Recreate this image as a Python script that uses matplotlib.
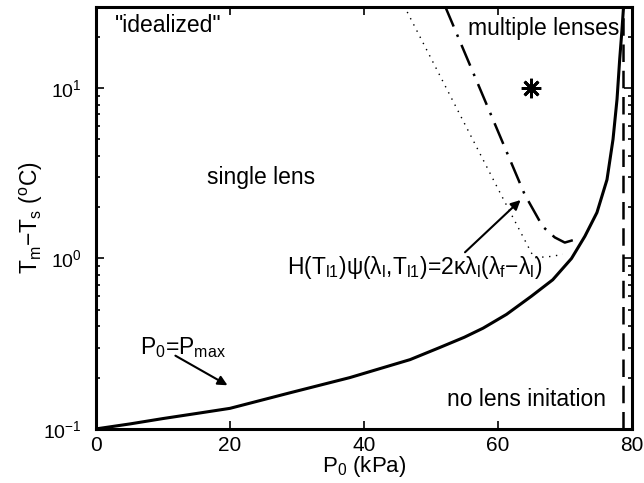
import numpy as np
import matplotlib
matplotlib.use('Agg')
import matplotlib.pyplot as plt

plt.rcParams['font.family'] = ['Liberation Sans', 'DejaVu Sans']
plt.rcParams['mathtext.fontset'] = 'custom'
plt.rcParams['mathtext.rm'] = 'Liberation Sans'
plt.rcParams['mathtext.it'] = 'Liberation Sans'
plt.rcParams['mathtext.default'] = 'regular'
plt.rcParams['axes.unicode_minus'] = False

# P0 = Pmax curve (solid)
p_max = [0, 5.1, 10, 15.5, 20, 29, 37.9, 46.9, 51.3, 55, 57.8, 61.3, 65, 68.2, 71,
         73, 74.8, 76.3, 77.2, 77.8, 78.2, 78.5, 78.8]
t_max = [0.1, 0.107, 0.115, 0.124, 0.132, 0.163, 0.2, 0.255, 0.3, 0.345, 0.39, 0.47, 0.6, 0.75, 1.0,
         1.35, 1.86, 2.9, 5.0, 8.6, 14.8, 21, 31]

# multiple lens boundary (dash-dot)
p_multi = [52.1, 64.0, 66.7, 68.5, 70.0, 71.2]
t_multi = [30.4, 2.38, 1.54, 1.33, 1.24, 1.28]

# dotted boundary
p_dot = [46.0, 60.6, 65.4, 68.2, 69.7]
t_dot = [30.4, 2.32, 1.01, 1.03, 1.06]

# no lens limit (vertical dashed)
p_lim = [78.7, 78.7]
t_lim = [0.1, 30]

# one case
p_star = [65]
t_star = [10]

fig = plt.figure(figsize=(6.44, 4.83), dpi=100)
ax = fig.add_axes([0.149, 0.112, 0.832, 0.874])

ax.semilogy(p_max, t_max, color='k', lw=2.2)
ax.semilogy(p_lim, t_lim, color='k', lw=1.8, dashes=(7, 3.5))
ax.semilogy(p_multi, t_multi, color='k', lw=1.8, dashes=(9, 3.5, 1, 3.5))
ax.semilogy(p_dot, t_dot, color='k', lw=1.0, dashes=(1, 4))
ax.semilogy(p_star, t_star, ls='none', marker=(8, 2, 0), ms=14, mew=2, color='k')

ax.set_xlim(0, 80)
ax.set_ylim(0.1, 30)
ax.set_xticks([0, 20, 40, 60, 80])

ax.tick_params(which='both', direction='in', top=True, right=True, width=1.2)
ax.tick_params(which='major', length=6)
ax.tick_params(which='minor', length=3)
ax.tick_params(axis='x', labelsize=15, pad=5)
ax.tick_params(axis='y', labelsize=14, pad=10)
for s in ax.spines.values():
    s.set_linewidth(2.2)

ax.set_xlabel(r'P$_0$ (kPa)', fontsize=16)
ax.xaxis.set_label_coords(0.5, -0.06)
ax.set_ylabel(r'T$_m$$-$T$_s$ ($^o$C)', fontsize=16.5)
ax.yaxis.set_label_coords(-0.095, 0.5)

fs = 16.5
ax.text(2.8, 23.2, '"idealized"', fontsize=fs, ha='left', va='center')
ax.text(55.5, 22.3, 'multiple lenses', fontsize=fs, ha='left', va='center')
ax.text(16.6, 3.0, 'single lens', fontsize=fs, ha='left', va='center')
ax.text(52.4, 0.148, 'no lens initation', fontsize=fs, ha='left', va='center')
ax.text(28.5, 0.885, r'H(T$_{l1}$)ψ(λ$_l$,T$_{l1}$)=2κλ$_l$(λ$_f$$-$λ$_l$)',
        fontsize=fs, ha='left', va='center')
ax.text(6.6, 0.30, r'P$_0$=P$_{max}$', fontsize=fs, ha='left', va='center')

ax.annotate('', xy=(63.7, 2.26), xytext=(54.8, 1.06),
            arrowprops=dict(arrowstyle='-|>', color='k', lw=1.5, mutation_scale=14))
ax.annotate('', xy=(20.0, 0.177), xytext=(11.5, 0.274),
            arrowprops=dict(arrowstyle='-|>', color='k', lw=1.5, mutation_scale=14))

fig.savefig('out.png', dpi=100)
